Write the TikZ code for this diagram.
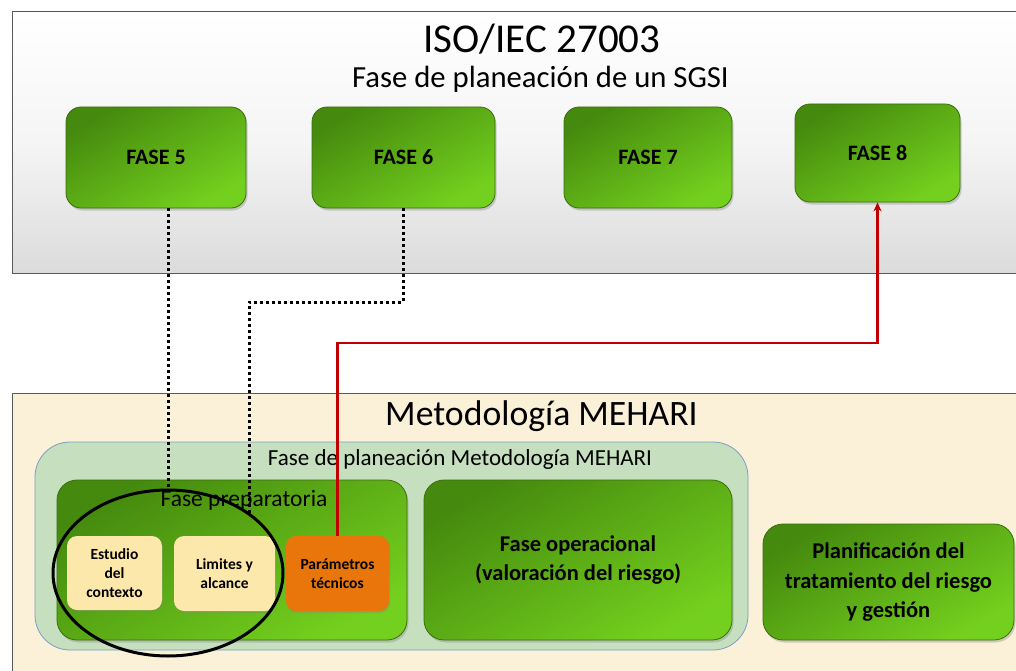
\documentclass[tikz,border=0pt]{standalone}
\usepackage{fontspec}
\setmainfont{Carlito}
\usetikzlibrary{shapes.geometric,shadows,arrows.meta}
\definecolor{gdark}{HTML}{458A0E}
\definecolor{glight}{HTML}{74D01E}
\definecolor{gborder}{HTML}{3A6E0C}
\definecolor{cream}{HTML}{FDE8AC}
\definecolor{orangebox}{HTML}{E8760A}
\definecolor{beige}{HTML}{FBF1D8}
\definecolor{palegreen}{HTML}{C6E0BF}
\definecolor{paleblue}{HTML}{7C9CC4}
\definecolor{redline}{HTML}{C00000}
\tikzset{
  gbox/.style={draw=gborder, line width=0.8pt, rounded corners=15pt,
    top color=gdark, bottom color=glight, shading angle=30,
    drop shadow={shadow xshift=1.5pt, shadow yshift=-2.5pt, opacity=0.35},
    align=center, inner sep=0pt},
  smallbox/.style={rounded corners=10pt, align=center, inner sep=0pt,
    drop shadow={shadow xshift=1pt, shadow yshift=-2pt, opacity=0.3},
    font=\bfseries\fontsize{15.5}{19}\selectfont},
  fasetxt/.style={font=\bfseries\fontsize{22}{26}\selectfont},
  bigtxt/.style={font=\bfseries\fontsize{22.5}{29.5}\selectfont},
  dotline/.style={line width=3pt, dash pattern=on 3pt off 3pt},
  redcon/.style={draw=redline, line width=2.5pt, -{Stealth[length=9pt,width=8pt]}},
}
\begin{document}
\begin{tikzpicture}[x=1pt,y=-1pt]
\useasboundingbox (0,0) rectangle (1016,671);
\fill[white] (0,0) rectangle (1016,671);
% top panel
\node[draw=gray!70!black, line width=0.8pt, top color=white, bottom color=gray!28,
  middle color=white!92!gray, minimum width=1010, minimum height=262, inner sep=0pt,
  anchor=north west] (top) at (12,11) {};
\node[inner sep=0pt, font=\fontsize{41}{48}\selectfont] (title) at (542,39) {ISO/IEC 27003};
\node[inner sep=0pt, font=\fontsize{30.7}{36}\selectfont] (sub) at (540.5,79) {Fase de planeación de un SGSI};
% bottom panel
\node[draw=gray!70!black, line width=0.8pt, fill=beige, minimum width=1010, minimum height=285,
  inner sep=0pt, anchor=north west] (bot) at (12,393) {};
\node[inner sep=0pt, font=\fontsize{35.7}{42}\selectfont] (meh) at (541.5,416) {Metodología MEHARI};
% inner container
\node[draw=paleblue, line width=0.8pt, fill=palegreen, rounded corners=35pt,
  minimum width=713, minimum height=208, inner sep=0pt] (cont) at (391.5,546) {};
\node[inner sep=0pt, font=\fontsize{23}{28}\selectfont] (contlbl) at (460,459) {Fase de planeación Metodología MEHARI};
% FASE boxes
\node[gbox, fasetxt, minimum width=180, minimum height=101] (f5) at (156,157.5) {FASE 5};
\node[gbox, fasetxt, minimum width=183, minimum height=101] (f6) at (403.5,157.5) {FASE 6};
\node[gbox, fasetxt, minimum width=168, minimum height=101] (f7) at (648,157.5) {FASE 7};
\node[gbox, fasetxt, minimum width=165, minimum height=98] (f8) at (877.5,153) {FASE 8};
% big boxes
\node[gbox, rounded corners=20pt, minimum width=350, minimum height=160] (prep) at (232,560) {};
\node[inner sep=0pt, font=\fontsize{23.5}{28}\selectfont] (preplbl) at (244,500) {Fase preparatoria};
\node[gbox, bigtxt, rounded corners=20pt, minimum width=308, minimum height=160] (oper) at (578,560)
  {Fase operacional\\(valoración del riesgo)};
\node[gbox, bigtxt, rounded corners=20pt, minimum width=251, minimum height=116] (plan) at (888.5,582)
  {Planificación del\\tratamiento del riesgo\\y gestión};
% small boxes
\node[smallbox, fill=cream, minimum width=95, minimum height=74] (est) at (114.5,573) {Estudio\\del\\contexto};
\node[smallbox, fill=cream, minimum width=101, minimum height=75] (lim) at (224.5,573.5) {Limites y\\alcance};
\node[smallbox, fill=orangebox, minimum width=103, minimum height=75] (par) at (337.5,573.5) {Parámetros\\técnicos};
% ellipse
\node[draw, ellipse, line width=3pt, minimum width=230, minimum height=166, inner sep=0pt] (ell) at (168,573) {};
% connectors
\coordinate (d6a) at (403.5,302);
\coordinate (d6b) at (249,302);
\coordinate (d6end) at (249,515);
\draw[dotline] (f5.south -| ell.north) -- (ell.north);
\draw[dotline] (f6.south) -- (d6a) -- (d6b) -- (d6end);
\coordinate (rk) at (337.5,343);
\draw[redcon] (par.north) -- (rk) -| (f8.south);
\end{tikzpicture}
\end{document}
